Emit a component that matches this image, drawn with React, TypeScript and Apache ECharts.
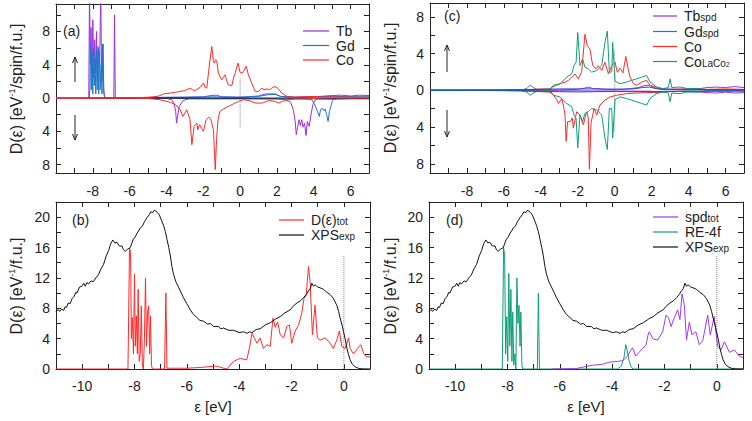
import React, { useEffect, useRef } from "react";
import * as echarts from "echarts";

type P = [number, number];

// ---------- tick / label values ----------
const xTicksTop: number[] = [-9, -8, -7, -6, -5, -4, -3, -2, -1, 0, 1, 2, 3, 4, 5, 6];
const xLabelsTop: number[] = [-8, -6, -4, -2, 0, 2, 4, 6];
const xTicksBot: number[] = [-10, -9, -8, -7, -6, -5, -4, -3, -2, -1, 0];
const xLabelsBot: number[] = [-10, -8, -6, -4, -2, 0];
const yTicksSpin: number[] = [-8, -6, -4, -2, 0, 2, 4, 6, 8, 10];
const yLabelsSpin: number[] = [-8, -4, 0, 4, 8];
const yTicksTot: number[] = [0, 2, 4, 6, 8, 10, 12, 14, 16, 18, 20];
const yLabelsTot: number[] = [0, 4, 8, 12, 16, 20];

// ---------- panel (a) ----------
const aTbUp: P[] = [[-10, 0], [-8.22, 0], [-8.18, 13], [-8.14, 4], [-8.1, 8.5], [-8.05, 3], [-8.0, 9.4], [-7.95, 2.5], [-7.9, 7], [-7.85, 3], [-7.8, 8], [-7.75, 2], [-7.7, 6], [-7.63, 4], [-7.57, 13], [-7.52, 2], [-7.46, 6.5], [-7.41, 1], [-7.36, 0.2], [-7.3, 0], [-6.86, 0], [-6.82, 10], [-6.78, 0], [-5, 0.05], [-4, 0.1], [-3, 0.1], [-2, 0.15], [-1.6, 0.3], [-1.3, 0.35], [-1, 0.15], [0, 0.1], [1, 0.25], [1.4, 0.5], [1.9, 0.5], [2.2, 0.2], [3, 0.1], [4, 0.15], [5, 0.3], [5.5, 0.35], [6, 0.25], [6.5, 0.35], [7, 0.3]];
const aTbDn: P[] = [[-10, 0], [-5, -0.02], [-4, -0.05], [-3.7, -0.2], [-3.6, -0.6], [-3.5, -1.6], [-3.45, -3.0], [-3.4, -2.2], [-3.3, -1.0], [-3.1, -0.3], [-2.8, -0.1], [-1, -0.1], [1, -0.1], [2.0, -0.1], [2.5, -0.2], [2.75, -0.5], [2.9, -1.5], [3.0, -3.0], [3.05, -4.4], [3.12, -3.5], [3.2, -2.6], [3.27, -3.3], [3.35, -2.6], [3.42, -3.5], [3.5, -3.0], [3.58, -4.5], [3.65, -2.8], [3.75, -3.4], [3.85, -2.0], [3.95, -0.8], [4.05, -0.3], [4.2, -0.1], [5, -0.05], [7, -0.05]];
const aGdUp: P[] = [[-10, 0], [-8.2, 0], [-8.16, 1], [-8.12, 6.4], [-8.08, 1], [-8.04, 5.5], [-8.0, 0.5], [-7.96, 6], [-7.92, 1.5], [-7.88, 4.8], [-7.84, 0.5], [-7.8, 5.8], [-7.76, 1], [-7.72, 6.2], [-7.68, 0.5], [-7.64, 5.6], [-7.6, 1], [-7.55, 4], [-7.5, 0.5], [-7.45, 6.5], [-7.4, 0.5], [-7.35, 0.1], [-7.3, 0], [-5, 0.03], [-3, 0.1], [-1.5, 0.15], [0, 0.1], [1, 0.2], [1.5, 0.4], [1.9, 0.45], [2.2, 0.2], [3, 0.1], [5, 0.2], [7, 0.15]];
const aGdDn: P[] = [[-10, 0], [-5, -0.02], [-3, -0.05], [0, -0.05], [2, -0.1], [3.5, -0.1], [3.9, -0.2], [4.0, -0.6], [4.1, -1.0], [4.2, -1.6], [4.3, -2.2], [4.37, -1.4], [4.45, -1.2], [4.55, -1.5], [4.62, -1.3], [4.7, -2.0], [4.78, -2.8], [4.85, -1.6], [4.93, -1.0], [5.0, -0.4], [5.07, -0.15], [5.3, -0.05], [7, -0.05]];
const aCoUp: P[] = [[-10, 0], [-8, 0], [-6, 0.02], [-5, 0.1], [-4.5, 0.2], [-4.35, 0.3], [-4.17, 0.5], [-3.8, 0.6], [-3.5, 0.7], [-3.26, 0.8], [-3.0, 0.9], [-2.72, 1.2], [-2.6, 1.0], [-2.45, 0.9], [-2.3, 1.1], [-2.17, 1.3], [-1.99, 1.8], [-1.9, 1.3], [-1.81, 1.2], [-1.68, 3.8], [-1.54, 6.2], [-1.45, 4.5], [-1.41, 4.2], [-1.33, 4.6], [-1.27, 4.5], [-1.18, 3.0], [-1.0, 2.2], [-0.9, 2.5], [-0.82, 2.8], [-0.72, 2.0], [-0.64, 1.6], [-0.45, 1.5], [-0.35, 2.5], [-0.27, 3.0], [-0.12, 4.2], [0, 3.1], [0.1, 3.0], [0.18, 3.2], [0.33, 3.8], [0.45, 2.8], [0.63, 1.8], [0.82, 0.8], [1.0, 0.8], [1.18, 1.2], [1.3, 1.0], [1.45, 1.1], [1.6, 1.0], [1.72, 1.2], [1.9, 1.4], [2.08, 1.1], [2.26, 0.6], [2.54, 0.2], [2.9, 0.1], [3.5, 0.15], [4, 0.2], [4.5, 0.1], [5, 0.15], [6, 0.1], [7, 0.1]];
const aCoDn: P[] = [[-10, 0], [-6, -0.02], [-5, -0.05], [-4.35, -0.2], [-3.8, -0.5], [-3.5, -0.8], [-3.26, -1.4], [-3.1, -2.2], [-2.9, -1.4], [-2.72, -2.6], [-2.62, -5.6], [-2.5, -3.4], [-2.35, -3.0], [-2.3, -3.8], [-2.2, -3.2], [-2.1, -3.6], [-1.99, -4.0], [-1.85, -2.6], [-1.7, -2.3], [-1.6, -2.5], [-1.45, -3.8], [-1.35, -8.6], [-1.28, -5.0], [-1.2, -2.6], [-1.1, -1.6], [-0.9, -1.3], [-0.64, -1.0], [-0.37, -0.7], [-0.09, -0.4], [0.18, -0.2], [0.5, -0.3], [0.82, -0.6], [1.2, -0.6], [1.55, -0.3], [1.9, -0.4], [2.1, -0.6], [2.3, -0.4], [2.6, -0.2], [3, -0.1], [4, -0.1], [5, -0.15], [6, -0.1], [7, -0.1]];
const aZero: P[] = [[-8.3, 0], [7, 0]];
const aFermi: P[] = [[0, -3.5], [0, 2.5]];

// ---------- panel (c) ----------
const cTbUp: P[] = [[-10, 0], [-6, 0.02], [-3, 0.05], [-2, 0.1], [-1.6, 0.25], [-1.4, 0.35], [-1.2, 0.2], [-0.5, 0.1], [0.5, 0.1], [1.3, 0.3], [1.6, 0.5], [1.9, 0.55], [2.1, 0.3], [2.5, 0.15], [3.5, 0.1], [4.5, 0.15], [5, 0.3], [5.5, 0.35], [6, 0.3], [6.5, 0.4], [7, 0.3]];
const cTbDn: P[] = [[-10, 0], [-5, -0.02], [-3, -0.05], [0, -0.08], [2, -0.1], [2.3, -0.3], [2.5, -0.15], [4, -0.1], [5, -0.25], [5.5, -0.3], [6, -0.2], [6.5, -0.3], [7, -0.25]];
const cGdUp: P[] = [[-10, 0], [-6, 0.03], [-4, 0.1], [-3, 0.15], [-2, 0.15], [-1, 0.15], [0, 0.12], [1, 0.15], [1.5, 0.3], [1.9, 0.35], [2.3, 0.15], [3, 0.1], [4, 0.1], [5, 0.08], [7, 0.05]];
const cGdDn: P[] = [[-10, 0], [-6, -0.03], [-4, -0.1], [-3, -0.15], [-2, -0.18], [-1, -0.15], [0, -0.12], [1, -0.15], [2, -0.15], [3, -0.1], [4.5, -0.08], [7, -0.05]];
const cCoUp: P[] = [[-10, 0], [-7, 0.02], [-6, 0.05], [-5.1, 0.05], [-4.5, 0.1], [-4, 0.15], [-3.5, 0.15], [-3.41, 0.36], [-3.14, 0.54], [-2.96, 0.72], [-2.69, 0.9], [-2.51, 1.08], [-2.33, 1.43], [-2.15, 1.79], [-1.97, 1.25], [-1.79, 2.0], [-1.61, 6.1], [-1.48, 4.84], [-1.34, 4.48], [-1.19, 2.69], [-1.01, 2.33], [-0.89, 2.69], [-0.7, 2.15], [-0.53, 3.05], [-0.34, 1.79], [-0.16, 2.69], [0.02, 3.05], [0.14, 1.97], [0.29, 2.4], [0.45, 1.9], [0.6, 3.7], [0.72, 2.4], [0.83, 1.43], [1.01, 0.72], [1.19, 0.54], [1.46, 0.9], [1.73, 1.08], [1.91, 0.54], [2.27, 0.36], [2.45, 0.1], [3, 0.1], [4, 0.15], [5, 0.1], [6, 0.15], [7, 0.1]];
const cCoDn: P[] = [[-10, 0], [-7, -0.02], [-5.1, -0.05], [-4.5, -0.1], [-3.5, -0.2], [-3.32, -0.54], [-3.14, -1.0], [-3.05, -1.43], [-2.87, -0.9], [-2.78, -1.61], [-2.69, -2.69], [-2.63, -5.56], [-2.55, -3.4], [-2.39, -3.41], [-2.3, -3.0], [-2.24, -4.12], [-2.06, -2.33], [-1.88, -2.69], [-1.7, -3.76], [-1.52, -2.33], [-1.43, -3.0], [-1.37, -8.6], [-1.28, -3.5], [-1.19, -2.69], [-1.12, -1.97], [-0.97, -2.69], [-0.8, -1.61], [-0.53, -1.08], [-0.25, -0.72], [0.11, -0.54], [0.65, -0.36], [1.2, -0.3], [1.8, -0.25], [2.5, -0.2], [3, -0.15], [4, -0.1], [5, -0.1], [7, -0.1]];
const cLaCo2: P[] = [[-10, 0], [-6, 0], [-5.1, 0], [-4.75, 0.2], [-4.59, 0.55], [-4.4, 0.3], [-4.22, 0.1], [-3.5, 0], [-3.32, 0.54], [-2.96, 0.72], [-2.6, 1.43], [-2.33, 1.79], [-2.2, 2.69], [-2.09, 3.05], [-2.0, 6.27], [-1.88, 2.69], [-1.74, 3.41], [-1.61, 2.51], [-1.43, 2.33], [-1.25, 1.97], [-0.97, 2.15], [-0.7, 2.69], [-0.53, 5.2], [-0.4, 6.45], [-0.29, 1.97], [-0.16, 2.0], [-0.11, 5.2], [0.02, 1.0], [0.29, 0.72], [0.65, 0.9], [0.92, 1.08], [1.19, 1.25], [1.46, 1.43], [1.73, 1.61], [1.91, 0.9], [2.27, 0.36], [2.63, 0.18], [2.9, 0.3], [3.0, 1.25], [3.09, 0.3], [3.54, 0.36], [3.9, 0.2], [4.5, 0.2], [5, 0.05], [7, 0]];
const cFermi: P[] = [[0, -4.5], [0, 4.5]];

// ---------- panels (b) and (d) ----------
const xps: P[] = [[-11, 7.55], [-10.93, 7.8], [-10.85, 7.6], [-10.78, 7.9], [-10.71, 7.7], [-10.65, 8.2], [-10.6, 8.1], [-10.53, 8.7], [-10.46, 8.6], [-10.38, 9.3], [-10.3, 9.6], [-10.25, 10.1], [-10.2, 10.0], [-10.1, 10.8], [-10.01, 10.9], [-9.94, 11.3], [-9.88, 10.9], [-9.82, 11.4], [-9.76, 11.2], [-9.66, 11.6], [-9.57, 11.5], [-9.48, 12.0], [-9.38, 12.4], [-9.28, 13.2], [-9.18, 13.8], [-9.08, 14.9], [-8.99, 15.6], [-8.91, 16.5], [-8.83, 17.0], [-8.75, 16.6], [-8.67, 16.7], [-8.58, 16.2], [-8.48, 16.2], [-8.42, 15.7], [-8.36, 15.5], [-8.26, 15.8], [-8.16, 16.0], [-8.1, 16.6], [-8.04, 17.1], [-7.97, 17.4], [-7.9, 17.9], [-7.84, 18.2], [-7.78, 18.6], [-7.7, 18.8], [-7.62, 19.4], [-7.53, 19.9], [-7.44, 20.3], [-7.38, 20.7], [-7.3, 20.6], [-7.25, 20.9], [-7.18, 20.8], [-7.12, 20.6], [-7.05, 20.3], [-6.97, 19.6], [-6.89, 18.9], [-6.82, 18.1], [-6.76, 17.1], [-6.69, 16.0], [-6.63, 14.9], [-6.57, 13.5], [-6.51, 12.5], [-6.42, 11.5], [-6.32, 10.8], [-6.22, 10.1], [-6.13, 9.4], [-6.0, 8.6], [-5.87, 7.8], [-5.75, 7.2], [-5.62, 6.8], [-5.5, 6.4], [-5.36, 6.3], [-5.2, 5.9], [-5.1, 6.0], [-4.98, 5.6], [-4.8, 5.6], [-4.7, 5.3], [-4.6, 5.4], [-4.4, 5.1], [-4.21, 5.1], [-4.0, 4.8], [-3.83, 4.9], [-3.7, 4.7], [-3.6, 4.9], [-3.51, 4.8], [-3.35, 5.2], [-3.2, 5.3], [-3.0, 5.8], [-2.81, 6.1], [-2.6, 6.6], [-2.43, 6.9], [-2.25, 7.4], [-2.05, 7.8], [-1.9, 8.4], [-1.79, 8.7], [-1.65, 9.0], [-1.54, 9.4], [-1.44, 9.8], [-1.35, 10.3], [-1.28, 10.6], [-1.22, 11.3], [-1.16, 10.9], [-1.1, 11.1], [-1.0, 10.8], [-0.91, 10.7], [-0.78, 10.5], [-0.65, 10.1], [-0.52, 9.8], [-0.4, 9.3], [-0.27, 8.4], [-0.2, 7.6], [-0.14, 6.7], [-0.07, 5.8], [-0.01, 4.9], [0.06, 3.8], [0.12, 2.7], [0.18, 1.9], [0.24, 1.2], [0.33, 0.6], [0.43, 0.3], [0.55, 0.1], [0.69, 0.02], [1, 0]];
const bTot: P[] = [[-11, 0], [-8.25, 0], [-8.19, 15.9], [-8.15, 15.5], [-8.12, 4], [-8.08, 6.8], [-8.04, 2], [-8.0, 12.5], [-7.97, 3], [-7.93, 7], [-7.89, 2], [-7.86, 10.5], [-7.82, 1], [-7.78, 2], [-7.74, 8.3], [-7.7, 0.5], [-7.66, 0], [-7.62, 4], [-7.58, 12], [-7.54, 3], [-7.5, 7.5], [-7.46, 8.3], [-7.42, 2], [-7.39, 7], [-7.35, 0.5], [-7.32, 0], [-6.85, 0], [-6.8, 10], [-6.76, 0.1], [-6, 0.1], [-5.5, 0.2], [-5.0, 0.35], [-4.9, 0.4], [-4.7, 0.2], [-4.47, 0], [-4.22, 1.0], [-3.96, 1.4], [-3.71, 1.2], [-3.6, 2.9], [-3.51, 4.7], [-3.42, 4.1], [-3.32, 3.4], [-3.2, 4.1], [-3.07, 2.7], [-2.94, 3.2], [-2.81, 3.0], [-2.71, 6.7], [-2.62, 5.5], [-2.53, 6.2], [-2.43, 4.5], [-2.3, 4.1], [-2.18, 5.6], [-2.08, 5.8], [-1.99, 3.4], [-1.86, 5.0], [-1.73, 5.8], [-1.61, 7.3], [-1.52, 9.3], [-1.44, 9.7], [-1.35, 13.5], [-1.29, 11.5], [-1.2, 4.5], [-1.1, 8.4], [-1.01, 4.1], [-0.91, 3.8], [-0.71, 4.1], [-0.52, 3.4], [-0.4, 2.7], [-0.27, 3.8], [-0.17, 5.0], [-0.08, 3.0], [0.05, 2.7], [0.18, 4.1], [0.24, 2.7], [0.37, 2.0], [0.52, 2.7], [0.65, 3.2], [0.76, 2.0], [0.88, 1.6], [1, 1.6]];
const dSpd: P[] = [[-6.3, 0], [-5.4, 0.05], [-4.75, 0.5], [-4.4, 0.6], [-4.11, 0.9], [-3.8, 1.0], [-3.6, 1.1], [-3.41, 1.7], [-3.3, 2.4], [-3.22, 2.8], [-3.1, 1.7], [-2.97, 2.2], [-2.84, 2.7], [-2.71, 3.1], [-2.62, 4.6], [-2.58, 4.9], [-2.45, 4.0], [-2.26, 3.8], [-2.07, 4.9], [-1.94, 7.1], [-1.84, 6.7], [-1.75, 5.6], [-1.63, 6.7], [-1.5, 7.8], [-1.41, 6.5], [-1.33, 9.9], [-1.24, 8.4], [-1.16, 3.8], [-1.05, 6.2], [-0.95, 4.5], [-0.8, 4.9], [-0.67, 3.2], [-0.54, 3.7], [-0.35, 7.1], [-0.25, 4.5], [-0.1, 6.9], [0.03, 3.0], [0.16, 2.5], [0.29, 3.6], [0.48, 2.2], [0.67, 2.5], [0.86, 1.7], [1, 1.5]];
const dRe4f: P[] = [[-11, 0], [-8.2, 0], [-8.15, 16], [-8.11, 15], [-8.07, 2], [-8.03, 6.9], [-7.99, 1], [-7.95, 12.6], [-7.91, 3], [-7.87, 10.5], [-7.83, 1], [-7.8, 7.5], [-7.76, 0.5], [-7.72, 2], [-7.68, 0], [-7.64, 12], [-7.6, 6], [-7.56, 8.4], [-7.52, 3], [-7.49, 7.5], [-7.45, 0.5], [-7.42, 0], [-6.86, 0], [-6.82, 10], [-6.78, 0], [-3.8, 0], [-3.65, 0.4], [-3.55, 1.5], [-3.48, 3.2], [-3.43, 2.5], [-3.36, 1.2], [-3.28, 0.3], [-3.2, 0], [1, 0]];
const totFermi: P[] = [[0, 0], [0, 15]];

const FONT = '"Liberation Sans", Arial, Helvetica, sans-serif';
const INK = "#222";
const C_TB = "#9b30e0";
const C_GD = "#1f78c8";
const C_GD2 = "#1553c0";
const C_CO = "#ff2a2a";
const C_GREEN = "#0f9e78";
const C_SPD = "#a03af0";

function xPair(grid: number, min: number, max: number, ticks: number[], labels: number[], margin: number) {
  const base = {
    type: "value", gridIndex: grid, min, max, splitLine: { show: false },
    axisLine: { show: true, onZero: false, lineStyle: { color: INK, width: 1 } },
    axisTick: { show: true, inside: true, length: 5, customValues: ticks, lineStyle: { color: INK, width: 1 } },
  };
  return [
    { ...base, position: "bottom", axisLabel: { show: true, customValues: labels, margin, fontSize: 14, color: INK, fontFamily: FONT } },
    { ...base, position: "top", axisLabel: { show: false } },
  ];
}
function yPair(grid: number, min: number, max: number, ticks: number[], labels: number[]) {
  const base = {
    type: "value", gridIndex: grid, min, max, splitLine: { show: false },
    axisLine: { show: true, onZero: false, lineStyle: { color: INK, width: 1 } },
    axisTick: { show: true, inside: true, length: 5, customValues: ticks, lineStyle: { color: INK, width: 1 } },
  };
  return [
    { ...base, position: "left", axisLabel: { show: true, customValues: labels, margin: 6, fontSize: 14, color: INK, fontFamily: FONT, formatter: (v: number) => String(Math.abs(v)) } },
    { ...base, position: "right", axisLabel: { show: false } },
  ];
}
function ln(ax: number, data: P[], color: string, extra: any = {}) {
  return {
    type: "line", xAxisIndex: ax, yAxisIndex: ax, data, symbol: "none", showSymbol: false, silent: true,
    clip: true, lineStyle: { color, width: 1, ...extra }, z: 2,
  };
}
const rich: any = {
  m: { fontSize: 14, lineHeight: 13, fontFamily: FONT, fill: INK, verticalAlign: "middle" },
  s: { fontSize: 10, lineHeight: 1, fontFamily: FONT, fill: INK, verticalAlign: "bottom" },
  q: { fontSize: 7, lineHeight: 1, fontFamily: FONT, fill: INK, verticalAlign: "bottom" },
  p: { fontSize: 9, lineHeight: 4, fontFamily: FONT, fill: INK, verticalAlign: "top" },
  t: { fontSize: 16, lineHeight: 17, fontFamily: FONT, fill: INK, verticalAlign: "middle" },
  x: { fontSize: 15, lineHeight: 17, fontFamily: FONT, fill: INK, verticalAlign: "middle" },
};
function txt(x: number, y: number, text: string, opts: any = {}) {
  return {
    type: "text", x, y, rotation: opts.rotation || 0, silent: true,
    style: { text, rich, fill: INK, font: `14px ${FONT}`, align: opts.align || "left", verticalAlign: "middle" },
  };
}
function legendItem(x1: number, x2: number, y: number, color: string, label: string) {
  return [
    { type: "line", silent: true, shape: { x1, y1: y, x2, y2: y }, style: { stroke: color, lineWidth: 1.2 } },
    txt(x2 + 7, y, label),
  ];
}
function arrow(x: number, yFrom: number, yTo: number) {
  const d = yTo < yFrom ? 1 : -1;
  return [
    { type: "line", silent: true, shape: { x1: x, y1: yFrom, x2: x, y2: yTo }, style: { stroke: INK, lineWidth: 1 } },
    { type: "polyline", silent: true, shape: { points: [[x - 2.5, yTo + 6 * d], [x, yTo], [x + 2.5, yTo + 6 * d]] }, style: { stroke: INK, fill: "none", lineWidth: 1 } },
  ];
}

function buildOption() {
  const grids = [
    { left: 56, top: 4, width: 313, height: 169 },
    { left: 56, top: 202, width: 314, height: 167 },
    { left: 430, top: 3, width: 314, height: 170 },
    { left: 429, top: 202, width: 314, height: 167 },
  ];
  const xAxis = [
    ...xPair(0, -10, 7, xTicksTop, xLabelsTop, 11),
    ...xPair(1, -11, 1, xTicksBot, xLabelsBot, 10),
    ...xPair(2, -10, 7, xTicksTop, xLabelsTop, 11),
    ...xPair(3, -11, 1, xTicksBot, xLabelsBot, 10),
  ];
  const yAxis = [
    ...yPair(0, -9, 11.3, yTicksSpin, yLabelsSpin),
    ...yPair(1, 0, 22, yTicksTot, yLabelsTot),
    ...yPair(2, -9, 9.5, yTicksSpin, yLabelsSpin),
    ...yPair(3, 0, 22, yTicksTot, yLabelsTot),
  ];
  // axis indices: a=0, b=2, c=4, d=6
  const series = [
    ln(0, aFermi, "#888", { type: "dotted" }),
    ln(0, aTbUp, C_TB), ln(0, aTbDn, C_TB),
    ln(0, aGdUp, C_GD), ln(0, aGdDn, C_GD),
    ln(0, aZero, "#111"),
    ln(0, aCoUp, C_CO), ln(0, aCoDn, C_CO),

    ln(2, totFermi, "#888", { type: "dotted" }),
    ln(2, bTot, C_CO),
    ln(2, xps, "#111"),

    ln(4, cFermi, "#888", { type: "dotted" }),
    ln(4, cTbUp, C_TB), ln(4, cTbDn, C_TB),
    ln(4, cCoUp, C_CO), ln(4, cCoDn, C_CO),
    ln(4, cLaCo2, C_GREEN), ln(4, cLaCo2.map(([x, y]) => [x, -y] as P), C_GREEN),
    ln(4, cGdUp, C_GD2), ln(4, cGdDn, C_GD2),

    ln(6, totFermi, "#888", { type: "dotted" }),
    ln(6, dRe4f, C_GREEN),
    ln(6, dSpd, C_SPD),
    ln(6, xps, "#111"),
  ];
  const graphic = [
    // panel labels
    txt(63, 31, "(a)"), txt(72, 220, "(b)"), txt(444, 16, "(c)"), txt(446, 220, "(d)"),
    // y titles
    txt(16, 89, "{t|D(ε) [eV}{p|-1}{t|/spin/f.u.]}", { rotation: Math.PI / 2, align: "center" }),
    txt(16, 286, "{t|D(ε) [eV}{p|-1}{t|/f.u.]}", { rotation: Math.PI / 2, align: "center" }),
    txt(390, 88, "{t|D(ε) [eV}{p|-1}{t|/spin/f.u.]}", { rotation: Math.PI / 2, align: "center" }),
    txt(390, 286, "{t|D(ε) [eV}{p|-1}{t|/f.u.]}", { rotation: Math.PI / 2, align: "center" }),
    // x titles
    txt(213, 406, "{x|ε [eV]}", { align: "center" }),
    txt(586, 406, "{x|ε [eV]}", { align: "center" }),
    // legends
    ...legendItem(303, 329, 31, C_TB, "{m|Tb}"),
    ...legendItem(303, 329, 45.5, C_GD, "{m|Gd}"),
    ...legendItem(303, 329, 60, C_CO, "{m|Co}"),
    ...legendItem(279, 304, 220, C_CO, "{m|D(ε)}{s|tot}"),
    ...legendItem(279, 304, 235, "#111", "{m|XPS}{s|exp}"),
    ...legendItem(653, 677, 16, C_TB, "{m|Tb}{s|spd}"),
    ...legendItem(653, 677, 31.5, C_GD, "{m|Gd}{s|spd}"),
    ...legendItem(653, 677, 46.5, C_CO, "{m|Co}"),
    ...legendItem(653, 677, 61.5, C_GREEN, "{m|Co}{s|LaCo}{q|2}"),
    ...legendItem(653, 678, 217, C_SPD, "{m|spd}{s|tot}"),
    ...legendItem(653, 678, 232, C_GREEN, "{m|RE-4f}"),
    ...legendItem(653, 678, 247, "#111", "{m|XPS}{s|exp}"),
    // arrows
    ...arrow(75, 82, 57), ...arrow(75, 115, 140),
    ...arrow(447, 72, 45), ...arrow(447, 110, 137),
  ];
  return {
    animation: false,
    backgroundColor: "#fff",
    grid: grids,
    xAxis, yAxis, series, graphic,
  };
}

export default function App() {
  const ref = useRef<HTMLDivElement>(null);
  useEffect(() => {
    const chart = echarts.init(ref.current!, null, { renderer: "svg" });
    chart.setOption(buildOption() as any);
    return () => chart.dispose();
  }, []);
  return <div ref={ref} style={{ position: "absolute", left: 0, top: 0, width: 752, height: 421, background: "#fff" }} />;
}
